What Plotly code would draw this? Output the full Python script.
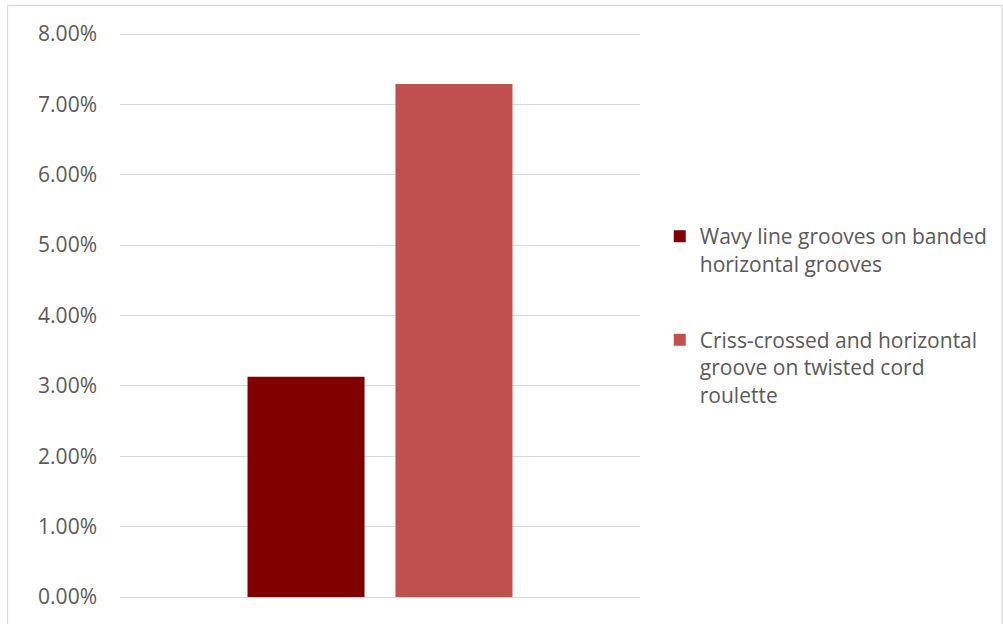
import plotly.graph_objects as go

categories = ["Decoration"]
series_names = [
    "Wavy line grooves on banded<br>horizontal grooves",
    "Criss-crossed and horizontal<br>groove on twisted cord<br>roulette",
]
series_values = [[0.0313], [0.0729]]
series_colors = ["#800000", "#C0504D"]
y_ticks = [0, 0.01, 0.02, 0.03, 0.04, 0.05, 0.06, 0.07, 0.08]

fig = go.Figure()
for i, (name, vals, col) in enumerate(zip(series_names, series_values, series_colors)):
    fig.add_trace(go.Bar(x=categories, y=vals, name=name, marker_color=col,
                         marker_line_width=0, legendgroup=f"g{i}"))

FONT = "Open Sans, Segoe UI, sans-serif"
pad = 4 * 0.08 / 563
H = 563 + 8
fig.update_layout(
    width=1003, height=624,
    margin=dict(l=120, r=363, t=30, b=23, autoexpand=False),
    paper_bgcolor="white", plot_bgcolor="white",
    barmode="group", bargap=0.431, bargroupgap=0.209,
    font=dict(family=FONT, size=21, color="#595959"),
    showlegend=True,
    legend=dict(x=1.038, y=(597 - 212) / H, xanchor="left", yanchor="top",
                valign="top", tracegroupgap=46,
                font=dict(family=FONT, size=21, color="#595959")),
    xaxis=dict(showticklabels=False, showgrid=False, zeroline=False,
               showline=False, ticks=""),
    yaxis=dict(range=[-pad, 0.08 + pad], tickvals=y_ticks, tickformat=".2%",
               showgrid=True, gridcolor="#d9d9d9", gridwidth=1.3,
               zeroline=False, showline=False, ticks="",
               ticklabelstandoff=22,
               tickfont=dict(family=FONT, size=21, color="#595959")),
)
fig.add_shape(type="rect", xref="paper", yref="paper",
              x0=(7.5 - 120) / 520, x1=(1002 - 120) / 520,
              y0=-0.2, y1=(601 - 5.5) / H,
              line=dict(color="#d9d9d9", width=1.3), layer="below")

fig.write_html("out.html")
